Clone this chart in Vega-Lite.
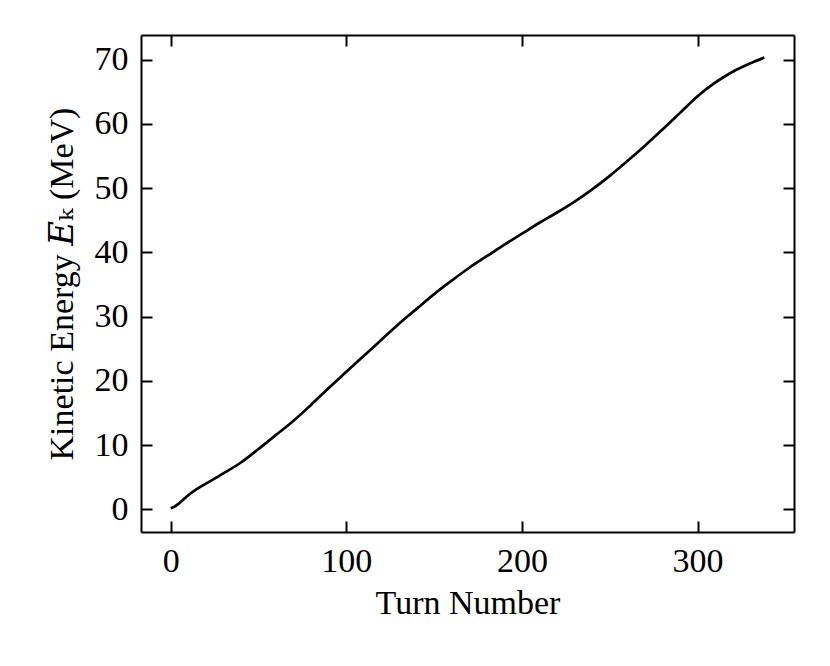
{
  "$schema": "https://vega.github.io/schema/vega-lite/v6.json",
  "width": 653,
  "height": 497,
  "autosize": "none",
  "padding": {"left": 141, "top": 35, "right": 36, "bottom": 134},
  "background": "white",
  "config": {
    "view": {"stroke": null},
    "font": "Liberation Serif",
    "axis": {
      "domainColor": "black",
      "domainWidth": 2,
      "tickColor": "black",
      "tickWidth": 2,
      "tickSize": -11,
      "labelFont": "Liberation Serif",
      "labelFontSize": 34,
      "labelColor": "black",
      "titleFont": "Liberation Serif, DejaVu Serif",
      "titleFontSize": 34,
      "titleFontWeight": "normal",
      "titleColor": "black",
      "grid": false,
      "labelFlush": false,
      "labelOverlap": false
    }
  },
  "data": {
    "values": [
      {"turn": 0, "ek": 0.2},
      {"turn": 2, "ek": 0.4},
      {"turn": 5, "ek": 1.0},
      {"turn": 10, "ek": 2.2},
      {"turn": 15, "ek": 3.2},
      {"turn": 20, "ek": 4.0},
      {"turn": 30, "ek": 5.6},
      {"turn": 40, "ek": 7.3},
      {"turn": 50, "ek": 9.4},
      {"turn": 60, "ek": 11.6},
      {"turn": 70, "ek": 13.8},
      {"turn": 80, "ek": 16.3},
      {"turn": 90, "ek": 18.9},
      {"turn": 100, "ek": 21.4},
      {"turn": 110, "ek": 23.9},
      {"turn": 120, "ek": 26.4},
      {"turn": 130, "ek": 28.9},
      {"turn": 140, "ek": 31.2},
      {"turn": 150, "ek": 33.5},
      {"turn": 160, "ek": 35.6},
      {"turn": 170, "ek": 37.6},
      {"turn": 180, "ek": 39.4},
      {"turn": 190, "ek": 41.2},
      {"turn": 200, "ek": 42.9},
      {"turn": 210, "ek": 44.6},
      {"turn": 220, "ek": 46.2},
      {"turn": 230, "ek": 47.9},
      {"turn": 240, "ek": 49.8},
      {"turn": 250, "ek": 51.9},
      {"turn": 260, "ek": 54.2},
      {"turn": 270, "ek": 56.6},
      {"turn": 280, "ek": 59.1},
      {"turn": 290, "ek": 61.7},
      {"turn": 300, "ek": 64.3},
      {"turn": 310, "ek": 66.4},
      {"turn": 320, "ek": 68.1},
      {"turn": 330, "ek": 69.4},
      {"turn": 338, "ek": 70.3}
    ]
  },
  "layer": [
    {
      "mark": {"type": "line", "color": "black", "strokeWidth": 2.7, "interpolate": "monotone"},
      "encoding": {
        "x": {
          "field": "turn", "type": "quantitative",
          "scale": {"domain": [-16.9, 354.9], "nice": false, "zero": false},
          "axis": {"orient": "bottom", "values": [0, 100, 200, 300], "title": "Turn Number", "labelPadding": 23, "titlePadding": 8}
        },
        "y": {
          "field": "ek", "type": "quantitative",
          "scale": {"domain": [-3.515, 73.815], "nice": false, "zero": false},
          "axis": {"orient": "left", "values": [0, 10, 20, 30, 40, 50, 60, 70], "title": "Kinetic Energy 𝐸ₖ (MeV)", "labelPadding": 24, "titlePadding": 15}
        }
      }
    },
    {
      "mark": {"type": "line", "opacity": 0},
      "encoding": {
        "x": {
          "field": "turn", "type": "quantitative",
          "axis": {"orient": "top", "values": [0, 100, 200, 300], "labels": false, "title": null}
        },
        "y": {
          "field": "ek", "type": "quantitative",
          "axis": {"orient": "right", "values": [0, 10, 20, 30, 40, 50, 60, 70], "labels": false, "title": null}
        }
      }
    }
  ],
  "resolve": {"axis": {"x": "independent", "y": "independent"}}
}
